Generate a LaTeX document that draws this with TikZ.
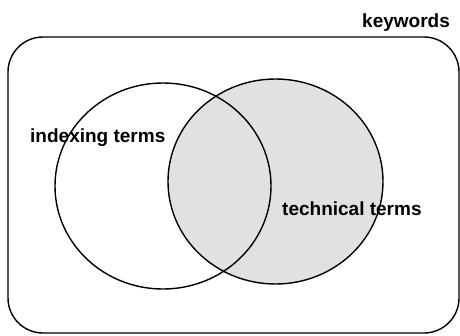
\documentclass[tikz,border=0pt]{standalone}
\usepackage{fontspec}
\setmainfont{Liberation Sans}
\usetikzlibrary{shapes.geometric}
\definecolor{venngray}{HTML}{E0E1E0}
\tikzset{
  setshape/.style={ellipse, draw=black, line width=1.4pt, inner sep=0pt},
  lbl/.style={font=\bfseries\fontsize{19}{22}\selectfont, inner sep=0pt, anchor=base west}
}
\begin{document}
\begin{tikzpicture}[x=1pt,y=-1pt]
\useasboundingbox (0,0) rectangle (460,335);
\node[draw=black, line width=1.4pt, rounded corners=35pt, minimum width=451pt, minimum height=296pt, inner sep=0pt] (kw) at (233.5,185) {};
\node[setshape, fill=venngray, minimum width=215pt, minimum height=205pt] (tech) at (275.5,181.5) {};
\node[setshape, minimum width=216pt, minimum height=206pt] (idx) at (163,186) {};
\node[lbl] (kwl) at (362,27.3) {keywords};
\node[lbl] (idxl) at (30,142) {indexing terms};
\node[lbl] (techl) at (282,215) {technical terms};
\end{tikzpicture}
\end{document}
